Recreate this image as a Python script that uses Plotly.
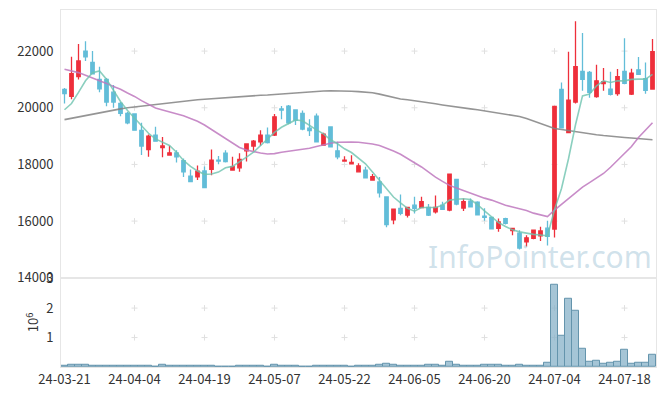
import plotly.graph_objects as go
from plotly.subplots import make_subplots

tick_labels = ["24-03-21", "24-04-04", "24-04-19", "24-05-07", "24-05-22",
               "24-06-05", "24-06-20", "24-07-04", "24-07-18"]
tick_index = [0, 10, 20, 30, 40, 50, 60, 70, 80]

open_ = [20650, 20400, 21100, 22000, 21600, 21000, 21000, 20550, 20150, 19800,
         19780, 19200, 18520, 19030, 18590, 18330, 18410, 18130, 17590, 17565,
         17770, 17830, 18150, 18400, 17800, 17880, 18480, 18650, 18800, 19035,
         19035, 19960, 20060, 19920, 19800, 19280, 19700, 18680, 19320, 18480,
         18120, 18020, 17740, 17800, 17450, 17380, 16850, 16040, 16450, 16210,
         16560, 16480, 16480, 16330, 16560, 16390, 17470, 16460, 16700, 16670,
         16170, 16130, 15740, 16090, 15660, 15570, 15270, 15390, 15480, 15750,
         15720, 20650, 19120, 20200, 21280, 21250, 20390, 20850, 20660, 20500,
         21280, 20480, 21340, 21030, 20660]
high = [20700, 21800, 22250, 22350, 22000, 21450, 21050, 20800, 20200, 19850,
        19800, 19470, 19060, 19330, 18970, 18660, 18500, 18210, 17820, 17965,
        17930, 18530, 18300, 18500, 18270, 18390, 18720, 18860, 19210, 19300,
        19780, 20060, 20100, 19940, 19900, 19590, 19800, 19120, 19350, 18800,
        18290, 18320, 18040, 17920, 17660, 17560, 16850, 16430, 16940, 16500,
        16860, 16860, 16600, 16900, 16680, 17660, 17470, 16800, 16800, 16700,
        16450, 16130, 16090, 16120, 15750, 15680, 15500, 15690, 15800, 16010,
        20060, 20890, 21980, 23050, 22640, 21300, 21520, 21400, 21270, 21370,
        22450, 21380, 21790, 21600, 22430]
low = [20150, 20300, 21000, 21650, 21200, 20550, 20050, 20000, 19700, 19420,
       19190, 18330, 18270, 18800, 18250, 18320, 18070, 17560, 17390, 17450,
       17170, 17620, 18010, 18070, 17780, 17740, 18100, 18480, 18660, 18740,
       19000, 19590, 19420, 19390, 19210, 19000, 18800, 18660, 18600, 18180,
       18110, 18010, 17740, 17500, 17440, 16830, 15780, 15890, 16210, 16130,
       16270, 16450, 16180, 16270, 16400, 16350, 16560, 16360, 16490, 16200,
       16010, 15720, 15620, 15880, 15500, 15000, 15100, 15360, 15300, 15140,
       15420, 19290, 19100, 20150, 20600, 20350, 20350, 20600, 20430, 20420,
       20830, 20450, 21170, 20490, 20650]
close = [20500, 21200, 21650, 21800, 21200, 20670, 20200, 20200, 19800, 19470,
         19210, 18650, 19000, 18820, 18650, 18410, 18270, 17740, 17390, 17765,
         17180, 18150, 18120, 18100, 17920, 18180, 18720, 18820, 19035, 18770,
         19680, 19920, 19470, 19560, 19250, 19190, 18800, 19070, 18620, 18270,
         18150, 18070, 17950, 17530, 17565, 17000, 15880, 16420, 16270, 16480,
         16450, 16690, 16210, 16480, 16410, 17660, 16600, 16690, 16500, 16220,
         16130, 15730, 15970, 15920, 15740, 15050, 15410, 15680, 15650, 15460,
         20050, 19290, 20270, 21450, 21000, 20540, 20950, 20920, 20470, 21100,
         20860, 21220, 21180, 20610, 21980]

ma_short = [19930, 20150, 20540, 20950, 21240, 21300, 21010, 20600, 20220, 19900,
            19640, 19370, 19100, 18900, 18780, 18670, 18430, 18140, 17930, 17770,
            17650, 17660, 17730, 17880, 17930, 18080, 18260, 18430, 18670, 18900,
            19130, 19310, 19430, 19570, 19540, 19370, 19220, 19080, 18870, 18730,
            18550, 18420, 18230, 18020, 17730, 17440, 17110, 16850, 16640, 16450,
            16350, 16480, 16480, 16480, 16560, 16740, 16770, 16790, 16760, 16580,
            16360, 16150, 15950, 15810, 15690, 15620, 15570, 15530, 15510, 15480,
            16400, 17150, 18200, 19400, 20420, 20480, 20770, 20950, 20890, 20950,
            20950, 21000, 21010, 21010, 21180]
ma_mid = [21360, 21300, 21240, 21150, 21060, 20960, 20860, 20750, 20650, 20520,
          20400, 20250, 20110, 19990, 19920, 19860, 19800, 19720, 19620, 19520,
          19390, 19230, 19070, 18900, 18740, 18600, 18510, 18450, 18400, 18370,
          18380, 18430, 18460, 18490, 18530, 18570, 18630, 18700, 18750, 18780,
          18790, 18790, 18780, 18760, 18720, 18670, 18580, 18470, 18360, 18220,
          18060, 17910, 17720, 17550, 17400, 17260, 17170, 17080, 16990, 16890,
          16810, 16740, 16650, 16560, 16500, 16440, 16370, 16280, 16220, 16160,
          16390, 16600, 16800, 17000, 17200, 17360, 17520, 17680, 17900, 18150,
          18390, 18630, 18950, 19210, 19470]
ma_long = [19580, 19630, 19680, 19730, 19780, 19830, 19870, 19920, 19960, 20000,
           20030, 20060, 20090, 20120, 20150, 20180, 20200, 20230, 20260, 20280,
           20300, 20320, 20340, 20360, 20380, 20390, 20410, 20420, 20440, 20450,
           20470, 20480, 20500, 20520, 20550, 20560, 20580, 20590, 20600, 20600,
           20590, 20580, 20570, 20550, 20530, 20480, 20420, 20360, 20310, 20280,
           20250, 20220, 20180, 20140, 20100, 20060, 20030, 20000, 19960, 19930,
           19890, 19850, 19820, 19780, 19740, 19690, 19620, 19530, 19440, 19350,
           19270, 19230, 19190, 19150, 19110, 19080, 19050, 19020, 18990, 18970,
           18950, 18930, 18910, 18890, 18870]

volume_m = [0.03, 0.06, 0.09, 0.06, 0.03, 0.03, 0.03, 0.03, 0.03, 0.03,
            0.03, 0.03, 0.03, 0.0, 0.06, 0.03, 0.03, 0.03, 0.03, 0.03,
            0.03, 0.03, 0.0, 0.0, 0.0, 0.03, 0.03, 0.03, 0.03, 0.0,
            0.06, 0.03, 0.03, 0.03, 0.0, 0.0, 0.03, 0.03, 0.03, 0.03,
            0.03, 0.0, 0.03, 0.03, 0.03, 0.06, 0.10, 0.06, 0.03, 0.03,
            0.03, 0.03, 0.06, 0.06, 0.03, 0.17, 0.06, 0.03, 0.03, 0.03,
            0.06, 0.06, 0.06, 0.03, 0.03, 0.06, 0.03, 0.03, 0.03, 0.14,
            2.79, 1.06, 2.33, 1.92, 0.62, 0.17, 0.21, 0.10, 0.14, 0.17,
            0.59, 0.10, 0.14, 0.14, 0.41]

price_ticks = [14000, 16000, 18000, 20000, 22000]
price_tick_text = ["14000", "16000", "18000", "20000", "22000"]
volume_ticks = [1, 2, 3]
volume_tick_text = ["1", "2", "3"]

idx = list(range(len(close)))

fig = make_subplots(rows=2, cols=1, shared_xaxes=True, vertical_spacing=0,
                    row_heights=[0.75, 0.25])

# grid crosses drawn beneath the data as small pixel-sized shapes
def add_cross(xv, yv, xref, yref):
    common = dict(type="line", layer="below", xref=xref, yref=yref,
                  xsizemode="pixel", ysizemode="pixel", xanchor=xv, yanchor=yv,
                  line=dict(color="#e0e0e0", width=1))
    fig.add_shape(x0=-3, x1=3, y0=0, y1=0, **common)
    fig.add_shape(x0=0, x1=0, y0=-3, y1=3, **common)

for t in tick_index[1:]:
    for v in price_ticks[1:]:
        add_cross(t, v, "x", "y")
    for v in volume_ticks[:2]:
        add_cross(t, v, "x2", "y2")

fig.add_annotation(text="InfoPointer.com", xref="paper", yref="paper",
                   x=0.805, y=0.31, xanchor="center", yanchor="middle", showarrow=False,
                   font=dict(family="Noto Sans", size=30, color="rgba(150,190,210,0.45)"))

fig.add_trace(go.Scatter(x=idx, y=ma_long, mode="lines",
                         line=dict(color="rgba(130,130,130,0.85)", width=1.6),
                         showlegend=False), row=1, col=1)
fig.add_trace(go.Scatter(x=idx, y=ma_mid, mode="lines",
                         line=dict(color="rgba(190,120,190,0.85)", width=1.6),
                         showlegend=False), row=1, col=1)

fig.add_trace(go.Candlestick(x=idx, open=open_, high=high, low=low, close=close,
                             increasing=dict(line=dict(color="#ee2f3b", width=1.3),
                                             fillcolor="#ee2f3b"),
                             decreasing=dict(line=dict(color="#62bdd8", width=1.3),
                                             fillcolor="#62bdd8"),
                             whiskerwidth=0, showlegend=False), row=1, col=1)

fig.add_trace(go.Scatter(x=idx, y=ma_short, mode="lines",
                         line=dict(color="rgba(110,195,175,0.8)", width=1.6),
                         showlegend=False), row=1, col=1)

fig.add_trace(go.Bar(x=idx, y=volume_m, marker=dict(color="rgba(135,178,200,0.75)",
                                                    line=dict(color="#6494ac", width=1)),
                     showlegend=False), row=2, col=1)

axis_font = dict(family="Noto Sans CJK KR, Noto Sans, sans-serif", size=13, color="#333333")

fig.update_xaxes(range=[-0.5, 84.5], showgrid=False, zeroline=False, automargin=False,
                 showline=True, mirror=True, linecolor="#e6e6e6", linewidth=1,
                 tickvals=tick_index, ticktext=tick_labels, ticks="",
                 tickfont=axis_font, rangeslider=dict(visible=False))
fig.update_xaxes(showticklabels=False, row=1, col=1)
fig.update_yaxes(range=[14000, 23450], tickvals=price_ticks, ticktext=price_tick_text,
                 showgrid=False, automargin=False,
                 zeroline=False, showline=True, mirror=True, linecolor="#e6e6e6",
                 ticks="", tickfont=axis_font, ticklabelstandoff=4, row=1, col=1)
fig.update_yaxes(range=[0, 3.03], tickvals=volume_ticks, ticktext=volume_tick_text,
                 showgrid=False, automargin=False,
                 zeroline=False, showline=True, mirror=True, linecolor="#e6e6e6",
                 ticks="", tickfont=axis_font, ticklabelstandoff=4,
                 title=dict(text="10<sup>6</sup>", font=axis_font, standoff=4),
                 row=2, col=1)

fig.update_layout(width=665, height=396, margin=dict(l=61, r=9, t=10, b=29),
                  paper_bgcolor="white", plot_bgcolor="white", bargap=0,
                  showlegend=False)

fig.write_html("out.html", config={"displayModeBar": False},
               post_script="document.body.style.margin='0';document.body.style.padding='0';"
                           "document.documentElement.style.overflow='hidden';")
